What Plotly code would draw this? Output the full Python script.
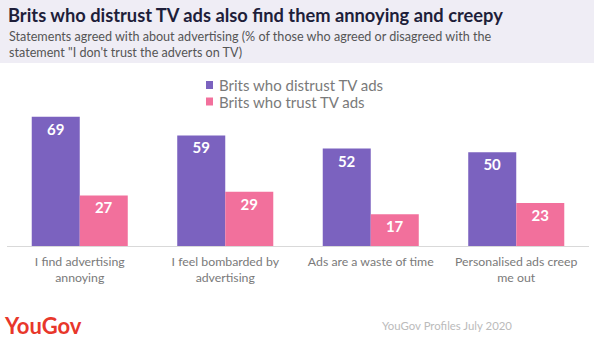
import plotly.graph_objects as go

# Survey statements (x categories) and the two respondent groups
categories = [
    "I find advertising<br>annoying",
    "I feel bombarded by<br>advertising",
    "Ads are a waste of time",
    "Personalised ads creep<br>me out",
]
distrust_values = [69, 59, 52, 50]
trust_values = [27, 29, 17, 23]
series_names = ["Brits who distrust TV ads", "Brits who trust TV ads"]

PURPLE = "#7B62BF"
PINK = "#F2709C"
FONT = "Lato"

W, H = 594, 339
M_L, M_R, M_T, M_B = 7, 5, 70, 93
PLOT_H = H - M_T - M_B
PLOT_W = W - M_L - M_R


def py(px):
    """pixel row -> paper y"""
    return (H - M_B - px) / PLOT_H


def px_x(px):
    """pixel column -> paper x"""
    return (px - M_L) / PLOT_W


fig = go.Figure()
for name, vals, col in [
    (series_names[0], distrust_values, PURPLE),
    (series_names[1], trust_values, PINK),
]:
    fig.add_trace(go.Bar(
        x=categories, y=vals, name=name, marker_color=col,
        marker_line_width=0,
        text=[str(v) for v in vals], textposition="inside",
        insidetextanchor="end", textangle=0,
        textfont=dict(family=FONT, size=15, color="white", weight="bold"),
        showlegend=False,
    ))

shapes = [
    # header band
    dict(type="rect", xref="paper", yref="paper", x0=px_x(0), x1=px_x(W),
         y0=py(63), y1=py(0), fillcolor="#EFEDF5", line_width=0, layer="below"),
]
annotations = [
    dict(text="Brits who distrust TV ads also find them annoying and creepy",
         x=px_x(6), y=py(15), xanchor="left", yanchor="middle",
         xref="paper", yref="paper", showarrow=False,
         font=dict(family=FONT, size=18.3, color="#1E1E3A", weight="bold")),
    dict(text="Statements agreed with about advertising (% of those who agreed or disagreed with the<br>"
              "statement \"I don't trust the adverts on TV)",
         x=px_x(7), y=py(44), xanchor="left", yanchor="middle", align="left",
         xref="paper", yref="paper", showarrow=False,
         font=dict(family=FONT, size=12.6, color="#555555")),
    dict(text="YouGov", x=px_x(2), y=py(325), xanchor="left", yanchor="middle",
         xref="paper", yref="paper", showarrow=False,
         font=dict(family=FONT, size=22, color="#E8372B", weight="bold")),
    dict(text="YouGov Profiles July 2020", x=px_x(514), y=py(325),
         xanchor="right", yanchor="middle", xref="paper", yref="paper",
         showarrow=False, font=dict(family=FONT, size=11.4, color="#BBBBBB")),
]

# legend
for i, (name, col) in enumerate(zip(series_names, [PURPLE, PINK])):
    cy = 85 + i * 16.5
    shapes.append(dict(type="rect", xref="paper", yref="paper",
                       x0=px_x(206), x1=px_x(213), y0=py(cy + 4), y1=py(cy - 4),
                       fillcolor=col, line_width=0))
    annotations.append(dict(text=name, x=px_x(217), y=py(cy), xanchor="left",
                            yanchor="middle", xref="paper", yref="paper",
                            showarrow=False,
                            font=dict(family=FONT, size=15, color="#7A7A7A")))

fig.update_layout(
    width=W, height=H,
    margin=dict(l=M_L, r=M_R, t=M_T, b=M_B, pad=0),
    paper_bgcolor="white", plot_bgcolor="white",
    barmode="group", bargap=0.34, bargroupgap=0,
    shapes=shapes, annotations=annotations,
    xaxis=dict(showline=True, linecolor="#D9D9D9", linewidth=1,
               ticks="", showgrid=False, ticklabelstandoff=4,
               tickfont=dict(family=FONT, size=12.3, color="#7A7A7A")),
    yaxis=dict(range=[0, 93.9], visible=False, showgrid=False),
    uniformtext=dict(mode=False),
)

fig.write_html("out.html")
